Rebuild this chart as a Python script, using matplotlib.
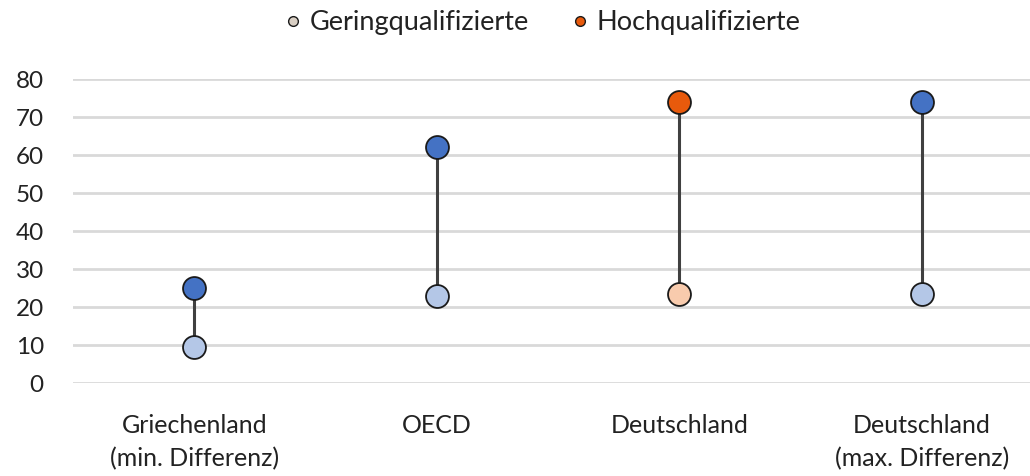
import matplotlib.pyplot as plt
from matplotlib.lines import Line2D

plt.rcParams["font.family"] = ["Lato", "DejaVu Sans"]

# Data
categories = [
    "Griechenland\n(min. Differenz)",
    "OECD",
    "Deutschland",
    "Deutschland\n(max. Differenz)",
]
low_skilled = [9.5, 23, 23.5, 23.5]
high_skilled = [25, 62, 74, 74]
low_colors = ["#B4C7E7", "#B4C7E7", "#F8CBAD", "#B4C7E7"]
high_colors = ["#4472C4", "#4472C4", "#E85A0C", "#4472C4"]
y_ticks = [0, 10, 20, 30, 40, 50, 60, 70, 80]

fig = plt.figure(figsize=(10.30, 4.76), dpi=100)
ax = fig.add_axes([73 / 1030, 1 - 383 / 476, 1 - 73 / 1030, (383 - 79) / 476])

x = list(range(len(categories)))
for xi, lo, hi, lc, hc in zip(x, low_skilled, high_skilled, low_colors, high_colors):
    ax.plot([xi, xi], [lo, hi], color="#404040", lw=2.2, zorder=2, clip_on=False)
    ax.plot(xi, lo, "o", ms=16.5, mfc=lc, mec="#1a1a1a", mew=1.3, zorder=3, clip_on=False)
    ax.plot(xi, hi, "o", ms=16.5, mfc=hc, mec="#1a1a1a", mew=1.3, zorder=3, clip_on=False)

ax.set_xlim(-0.5, 3.445)
ax.set_ylim(0, 80)
ax.set_yticks(y_ticks)
ax.set_xticks(x)
ax.set_xticklabels(categories, fontsize=18, color="#222222", linespacing=1.55)
ax.tick_params(axis="y", labelsize=17.5, labelcolor="#222222", length=0, pad=21)
ax.tick_params(axis="x", length=0, pad=22)
ax.grid(axis="y", color="#D9D9D9", lw=2)
ax.set_axisbelow(True)
for s in ax.spines.values():
    s.set_visible(False)

handles = [
    Line2D([], [], ls="none", marker="o", ms=7, mfc="#D9CFC4", mec="#1a1a1a", mew=1),
    Line2D([], [], ls="none", marker="o", ms=7, mfc="#E85A0C", mec="#1a1a1a", mew=1),
]
fig.legend(
    handles,
    ["Geringqualifizierte", "Hochqualifizierte"],
    loc="center",
    bbox_to_anchor=(0.527, 0.952),
    ncol=2,
    frameon=False,
    fontsize=19.5,
    handletextpad=0.3,
    columnspacing=1.6,
    handlelength=0.6,
    labelcolor="#222222",
)

fig.savefig("out.png", dpi=100)
